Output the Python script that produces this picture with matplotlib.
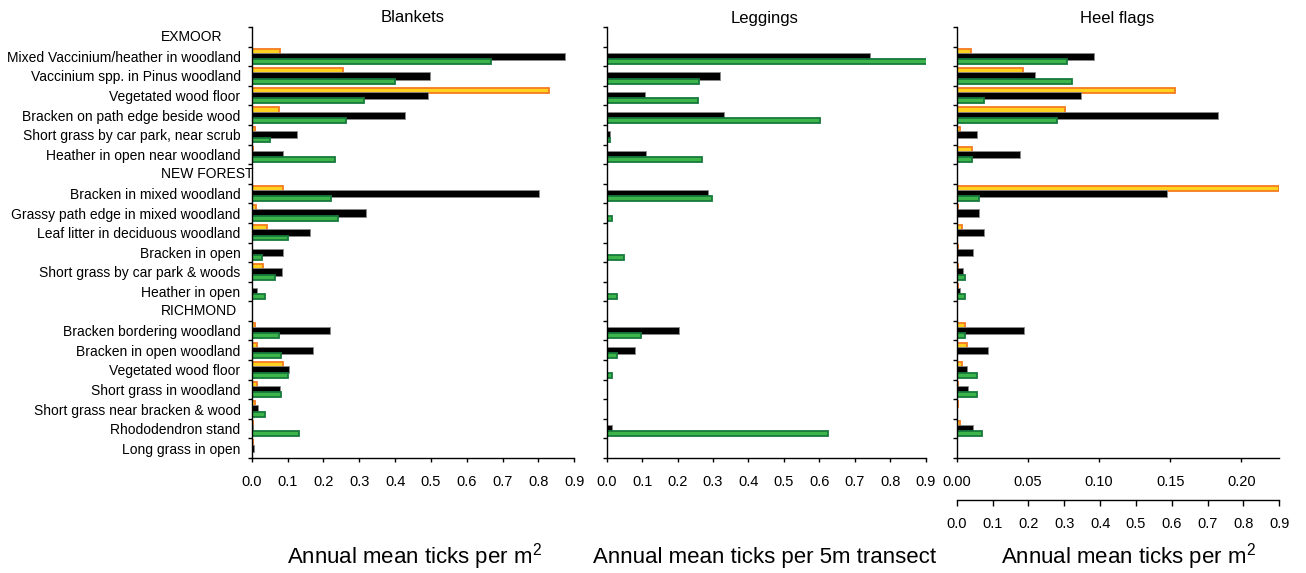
import numpy as np
import matplotlib
matplotlib.use('Agg')
import matplotlib.pyplot as plt
import matplotlib.transforms as mtransforms
from matplotlib.ticker import MultipleLocator, FixedLocator

plt.rcParams['font.family'] = ['Liberation Sans', 'DejaVu Sans']
plt.rcParams['mathtext.fontset'] = 'custom'
plt.rcParams['mathtext.rm'] = 'Liberation Sans'
plt.rcParams['mathtext.default'] = 'regular'

nan = np.nan

# habitat rows, site headings carry no values
rows = ['EXMOOR', 'Mixed Vaccinium/heather in woodland', 'Vaccinium spp. in Pinus woodland',
        'Vegetated wood floor', 'Bracken on path edge beside wood',
        'Short grass by car park, near scrub', 'Heather in open near woodland',
        'NEW FOREST', 'Bracken in mixed woodland', 'Grassy path edge in mixed woodland',
        'Leaf litter in deciduous woodland', 'Bracken in open', 'Short grass by car park & woods',
        'Heather in open', 'RICHMOND', 'Bracken bordering woodland', 'Bracken in open woodland',
        'Vegetated wood floor', 'Short grass in woodland', 'Short grass near bracken & wood',
        'Rhododendron stand', 'Long grass in open']
headings = ['EXMOOR', 'NEW FOREST', 'RICHMOND']

blankets_orange = [nan, 0.079, 0.254, 0.830, 0.075, 0.010, 0.004, nan, 0.088, 0.011, 0.042, 0.0,
                   0.031, 0.0, nan, 0.009, 0.014, 0.087, 0.014, 0.008, 0.005, 0.004]
blankets_black = [nan, 0.874, 0.498, 0.493, 0.428, 0.127, 0.087, nan, 0.802, 0.319, 0.163, 0.088,
                  0.084, 0.015, nan, 0.219, 0.172, 0.105, 0.080, 0.017, 0.005, 0.006]
blankets_green = [nan, 0.669, 0.400, 0.312, 0.264, 0.052, 0.233, nan, 0.222, 0.240, 0.100, 0.029,
                  0.066, 0.036, nan, 0.075, 0.083, 0.102, 0.083, 0.038, 0.133, 0.0]

leggings_black = [nan, 0.742, 0.321, 0.108, 0.332, 0.010, 0.111, nan, 0.287, 0.0, 0.0, 0.0,
                  0.0, 0.0, nan, 0.205, 0.080, 0.0, 0.0, 0.0, 0.015, 0.0]
leggings_green = [nan, 0.905, 0.260, 0.257, 0.602, 0.008, 0.270, nan, 0.298, 0.016, 0.0, 0.048,
                  0.0, 0.029, nan, 0.097, 0.028, 0.014, 0.0, 0.0, 0.625, 0.0]

heel_orange = [nan, 0.0098, 0.0464, 0.153, 0.0764, 0.0025, 0.0105, nan, 0.226, 0.001, 0.004, 0.001,
               0.001, 0.001, nan, 0.0058, 0.0072, 0.0035, 0.001, 0.001, 0.0025, 0.0]
heel_black = [nan, 0.0966, 0.0551, 0.0872, 0.1835, 0.0143, 0.0447, nan, 0.148, 0.0159, 0.0194, 0.0117,
              0.0042, 0.0023, nan, 0.0471, 0.0218, 0.0075, 0.0082, 0.0, 0.0112, 0.0]
heel_green = [nan, 0.0773, 0.0809, 0.0194, 0.0703, 0.0, 0.0105, nan, 0.0159, 0.0, 0.0, 0.0,
              0.006, 0.006, nan, 0.0058, 0.0, 0.0141, 0.0145, 0.0, 0.0178, 0.0]

panel_titles = ['Blankets', 'Leggings', 'Heel flags']
xlabels = ['Annual mean ticks per m$^{2}$', 'Annual mean ticks per 5m transect',
           'Annual mean ticks per m$^{2}$']

W, H = 1306, 573
fig = plt.figure(figsize=(W / 100, H / 100), dpi=100)


def px_axes(x0, x1, y0, y1):
    return fig.add_axes([x0 / W, 1 - y1 / H, (x1 - x0) / W, (y1 - y0) / H])


def hbars(ax, offset, values, height, **kw):
    v = np.asarray(values, dtype=float)
    y = np.arange(len(v))
    keep = np.nan_to_num(v) > 0
    ax.barh(y[keep] + offset, v[keep], height=height, **kw)


def draw_panel(ax, orange, black, green, xmax):
    if orange is not None:
        hbars(ax, -0.26, orange, 0.27, color='#FFD21F', edgecolor='#F47B20', linewidth=1.3)
    hbars(ax, 0.0, black, 0.37, color='black', edgecolor='#8a8a8a', linewidth=0.6)
    hbars(ax, 0.27, green, 0.25, color='#3DB54A', edgecolor='#17793B', linewidth=1.3)

    n = len(rows)
    ax.set_ylim(n - 0.5, -0.5)
    ax.set_xlim(0, xmax)
    for s in ['top', 'right']:
        ax.spines[s].set_visible(False)
    ax.spines['left'].set_linewidth(1.0)
    ax.spines['bottom'].set_linewidth(1.0)
    ax.set_yticks(np.arange(n))
    ax.yaxis.set_minor_locator(FixedLocator(np.arange(-0.5, n, 1.0)))
    ax.tick_params(axis='y', which='major', length=0, pad=8, labelsize=10)
    ax.tick_params(axis='y', which='minor', length=3, width=1, direction='out')
    ax.tick_params(axis='x', which='major', length=3, width=1, direction='out', labelsize=10.5, pad=9)


ax1 = px_axes(251.7, 574.3, 27, 458)
draw_panel(ax1, blankets_orange, blankets_black, blankets_green, 0.9)
ax1.xaxis.set_major_locator(MultipleLocator(0.1))
ax1.set_yticklabels(['' if r in headings else r for r in rows])
head_tr = mtransforms.blended_transform_factory(fig.transFigure, ax1.transData)
for i, r in enumerate(rows):
    if r in headings:
        ax1.text(161 / W, i, r, transform=head_tr, ha='left', va='center', fontsize=10)

ax2 = px_axes(606.7, 925.7, 27, 458)
draw_panel(ax2, None, leggings_black, leggings_green, 0.9)
ax2.xaxis.set_major_locator(MultipleLocator(0.1))
ax2.set_yticklabels([])

ax3 = px_axes(956.7, 1278.5, 27, 458)
draw_panel(ax3, heel_orange, heel_black, heel_green, 0.226)
ax3.xaxis.set_major_locator(FixedLocator([0, 0.05, 0.10, 0.15, 0.20]))
ax3.xaxis.set_major_formatter(lambda v, p: f'{v:.2f}')
ax3.set_yticklabels([])

for ax in (ax1, ax2):
    ax.set_xticklabels([f'{v:.1f}' for v in ax.get_xticks()])

# second scale under the heel flag panel
ax4 = px_axes(956.7, 1279.3, 499, 500)
ax4.set_xlim(0, 0.9)
ax4.xaxis.set_major_locator(MultipleLocator(0.1))
ax4.xaxis.set_major_formatter(lambda v, p: f'{v:.1f}')
ax4.set_yticks([])
for s in ['top', 'right', 'left']:
    ax4.spines[s].set_visible(False)
ax4.spines['bottom'].set_linewidth(1.0)
ax4.patch.set_visible(False)
ax4.tick_params(axis='x', length=4, width=1, direction='out', labelsize=10.5, pad=8)

title_x = [413, 765, 1117]
label_x = [414, 765, 1128]
for t, tx in zip(panel_titles, title_x):
    fig.text(tx / W, 1 - 18 / H, t, ha='center', va='center', fontsize=12)
for t, lx in zip(xlabels, label_x):
    fig.text(lx / W, 1 - 557 / H, t, ha='center', va='center', fontsize=16)

fig.savefig('out.png', dpi=100)
